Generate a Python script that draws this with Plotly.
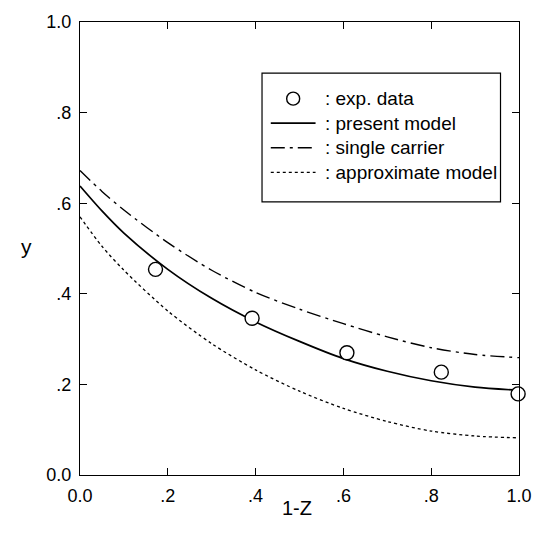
import plotly.graph_objects as go

# Experimental points
exp_x = [0.172, 0.392, 0.608, 0.823, 0.998]
exp_y = [0.454, 0.346, 0.270, 0.227, 0.179]

# Model curves sampled along 1-Z
curve_x = [0.0, 0.05, 0.1, 0.2, 0.3, 0.4, 0.5, 0.6, 0.7, 0.8, 0.9, 1.0]
present_y = [0.638, 0.583, 0.534, 0.454, 0.390, 0.338, 0.295, 0.257, 0.229, 0.208, 0.194, 0.187]
single_y = [0.672, 0.626, 0.585, 0.513, 0.452, 0.403, 0.366, 0.334, 0.305, 0.281, 0.266, 0.259]
approx_y = [0.570, 0.505, 0.452, 0.362, 0.290, 0.232, 0.185, 0.147, 0.118, 0.097, 0.086, 0.082]

tick_vals = [0.0, 0.2, 0.4, 0.6, 0.8, 1.0]
tick_text = ["0.0", ".2", ".4", ".6", ".8", "1.0"]

legend_labels = [": exp. data", ": present model", ": single carrier", ": approximate model"]

FONT = "Liberation Sans, Arial, sans-serif"
W, H = 544, 545
ML, MR, MT, MB = 80, 13, 14, 70
PW, PH = W - ML - MR, H - MT - MB


def px(x):
    return (x - ML) / PW


def py(y):
    return (H - MB - y) / PH


DASHDOT = "14px,5px,3px,5px"

fig = go.Figure()
fig.add_trace(go.Scatter(x=curve_x, y=approx_y, mode="lines",
                         line=dict(color="black", width=1.3, dash="dot", shape="spline", smoothing=0.8)))
fig.add_trace(go.Scatter(x=curve_x, y=single_y, mode="lines",
                         line=dict(color="black", width=1.4, dash=DASHDOT, shape="spline", smoothing=0.8)))
fig.add_trace(go.Scatter(x=curve_x, y=present_y, mode="lines",
                         line=dict(color="black", width=1.7, shape="spline", smoothing=0.8)))
fig.add_trace(go.Scatter(x=exp_x, y=exp_y, mode="markers", cliponaxis=False,
                         marker=dict(symbol="circle", size=14, color="white", line=dict(color="black", width=1.4))))

# Legend frame and samples
shapes = [dict(type="rect", xref="paper", yref="paper", x0=px(267), x1=px(512), y0=py(197), y1=py(66),
               line=dict(color="black", width=1.2), fillcolor="white", layer="above")]
rows = [92, 117, 142, 167]
shapes.append(dict(type="circle", xref="paper", yref="paper", xsizemode="pixel", ysizemode="pixel",
                   xanchor=px(299), yanchor=py(rows[0]), x0=-6.5, x1=6.5, y0=-6.5, y1=6.5,
                   line=dict(color="black", width=1.4), layer="above"))
for r, dash, wd in [(rows[1], "solid", 1.7), (rows[2], DASHDOT, 1.4), (rows[3], "dot", 1.3)]:
    shapes.append(dict(type="line", xref="paper", yref="paper", x0=px(276), x1=px(322), y0=py(r), y1=py(r),
                       line=dict(color="black", width=wd, dash=dash), layer="above"))

annotations = [dict(text=t, xref="paper", yref="paper", x=px(330), y=py(r), xanchor="left", yanchor="middle",
                    showarrow=False, font=dict(family=FONT, size=19, color="black"))
               for t, r in zip(legend_labels, rows)]
annotations.append(dict(text="1-Z", xref="paper", yref="paper", x=px(303), y=py(522), showarrow=False,
                        font=dict(family=FONT, size=20, color="black")))
annotations.append(dict(text="y", xref="paper", yref="paper", x=px(17), y=py(242), showarrow=False,
                        font=dict(family=FONT, size=21, color="black")))

axis_common = dict(range=[0, 1], tickvals=tick_vals, ticktext=tick_text, ticks="inside", ticklen=7,
                   tickwidth=1.2, tickcolor="black", showline=True, linecolor="black", linewidth=1.3,
                   mirror="ticks", showgrid=False, zeroline=False,
                   tickfont=dict(family=FONT, size=18, color="black"))

fig.update_layout(
    width=W, height=H, margin=dict(l=ML, r=MR, t=MT, b=MB),
    paper_bgcolor="white", plot_bgcolor="white", showlegend=False,
    xaxis=dict(**axis_common, ticklabelstandoff=4),
    yaxis=dict(**axis_common, ticklabelstandoff=4),
    shapes=shapes, annotations=annotations,
)

fig.write_html("out.html")
